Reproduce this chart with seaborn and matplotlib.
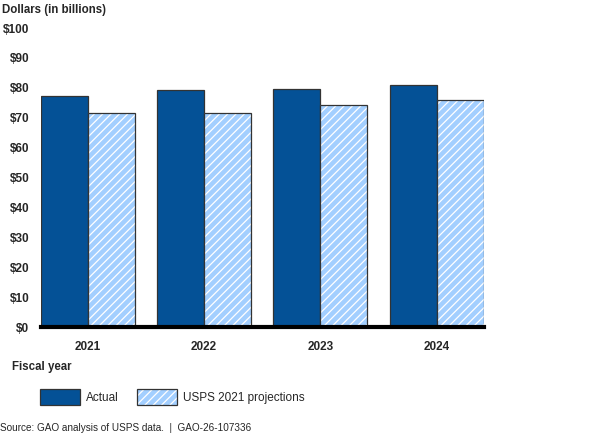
import pandas as pd
import matplotlib
matplotlib.use('Agg')
import matplotlib.pyplot as plt
import seaborn as sns
from matplotlib.patches import Patch, Rectangle

# data
years = ['2021', '2022', '2023', '2024']
actual = [77.4, 79.2, 79.7, 80.9]
projected = [71.5, 71.7, 74.1, 75.9]
series = ['Actual', 'USPS 2021 projections']

df = pd.DataFrame({
    'year': years * 2,
    'value': actual + projected,
    'series': [series[0]] * 4 + [series[1]] * 4,
})

sns.set_style('white')
plt.rcParams['font.family'] = ['Liberation Sans', 'DejaVu Sans']
plt.rcParams['hatch.linewidth'] = 0.9

dark = '#045196'
light = '#A3CFFF'

fig = plt.figure(figsize=(6, 4.38), dpi=100)
ax = fig.add_axes([0.0675, 0.2534, 0.7385, 0.6826])

sns.barplot(data=df, x='year', y='value', hue='series', palette=[dark, light],
            width=0.808, gap=0, saturation=1, edgecolor='#333333', linewidth=0.9,
            legend=False, ax=ax)

# hatched projections: white hatch, then a dark outline on top
for p in ax.containers[1]:
    p.set_hatch('////')
    p.set_edgecolor('white')
    p.set_linewidth(0)
    ax.add_patch(Rectangle(p.get_xy(), p.get_width(), p.get_height(),
                           fill=False, ec='#333333', lw=0.9, zorder=p.get_zorder() + 0.1))

ax.set_ylim(0, 100)
ax.set_xlim(-0.404, 3.404)
ax.set_yticks(range(0, 101, 10))
ax.set_yticklabels([f'${v}' for v in range(0, 101, 10)], fontsize=8.5, fontweight='bold')
ax.set_xticks(range(len(years)))
ax.set_xticklabels(years, fontsize=8.5, fontweight='bold')
ax.tick_params(axis='y', length=0, pad=8)
ax.tick_params(axis='x', length=0, pad=10)
ax.set_xlabel('')
ax.set_ylabel('')
for s in ['top', 'right', 'left']:
    ax.spines[s].set_visible(False)
ax.spines['bottom'].set_linewidth(3)
ax.spines['bottom'].set_color('black')
ax.spines['bottom'].set_zorder(5)

fig.text(0.003, 0.977, 'Dollars (in billions)', fontsize=8.3, fontweight='bold', va='center')
fig.text(0.02, 0.162, 'Fiscal year', fontsize=8.3, fontweight='bold', va='center')

# legend: hatched handle overlaid with a dark outline
h_actual = Patch(facecolor=dark, edgecolor='#333333', linewidth=0.9)
h_proj = (Patch(facecolor=light, edgecolor='white', hatch='////', linewidth=0),
          Patch(fill=False, edgecolor='#333333', linewidth=0.9))
fig.legend([h_actual, h_proj], series, loc='center left', bbox_to_anchor=(0.067, 0.093),
           ncol=2, frameon=False, fontsize=8.5, handlelength=3.4, handleheight=1.7,
           handletextpad=0.5, columnspacing=1.5, borderaxespad=0, borderpad=0)

fig.text(0.0, 0.012, 'Source: GAO analysis of USPS data.  |  GAO-26-107336',
         fontsize=7.2, va='bottom')

fig.savefig('out.png', dpi=100)
